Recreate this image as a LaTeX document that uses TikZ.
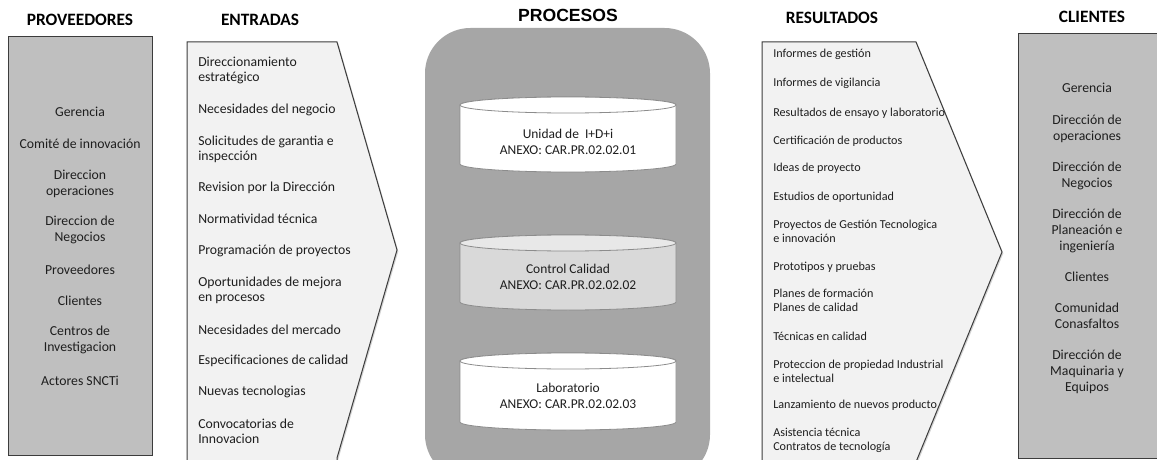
\documentclass[tikz,border=0pt]{standalone}
\usepackage{fontspec}
\setmainfont{Carlito}
\newfontfamily\headfont{Liberation Sans}
\usepackage{xcolor}
\definecolor{boxgray}{RGB}{191,191,191}
\definecolor{arrowgray}{RGB}{242,242,242}
\definecolor{procgray}{RGB}{166,166,166}
\definecolor{calgray}{RGB}{217,217,217}
\definecolor{caltop}{RGB}{232,232,232}
\definecolor{edgegray}{RGB}{60,60,60}
\definecolor{cylgray}{RGB}{140,140,140}
\definecolor{txtdark}{RGB}{30,30,30}
\usepackage{tikz}
\usetikzlibrary{shadows}
\tikzset{
  headtxt/.style={font=\fontsize{13}{15}\selectfont\bfseries, text=black, inner sep=0pt},
  initem/.style={font=\fontsize{10.3}{11.25}\selectfont, text=txtdark, anchor=west, align=left, inner sep=0pt},
  outitem/.style={initem, font=\fontsize{9.1}{10.5}\selectfont},
  partytxt/.style={font=\fontsize{10.3}{12}\selectfont, text=txtdark, align=center, inner sep=0pt},
  cyltxt/.style={partytxt, font=\fontsize{10.1}{12}\selectfont},
  shadowed/.style={drop shadow={shadow xshift=1pt, shadow yshift=-1pt, opacity=0.35}},
}

\begin{document}
\begin{tikzpicture}[x=0.75pt, y=-0.75pt]
  \useasboundingbox (0,0) rectangle (1157,460);

  % column titles
  \node[headtxt] (tprov) at (80,20)  {PROVEEDORES};
  \node[headtxt] (tent)  at (260,20) {ENTRADAS};
  \node[headtxt, font=\headfont\fontsize{13.2}{15}\selectfont\bfseries] (tproc) at (568,15) {PROCESOS};
  \node[headtxt] (tres)  at (832,18) {RESULTADOS};
  \node[headtxt] (tcli)  at (1092,17) {CLIENTES};

  % proveedores
  \draw[shadowed, fill=boxgray, draw=edgegray, line width=0.75pt] (8,37) rectangle (152,455);
  \node[partytxt] (p1) at (80,112) {Gerencia};
  \node[partytxt] (p2) at (80,144) {Comité de innovación};
  \node[partytxt] (p3) at (80,184) {Direccion\\operaciones};
  \node[partytxt] (p4) at (80,230) {Direccion de\\Negocios};
  \node[partytxt] (p5) at (80,270) {Proveedores};
  \node[partytxt] (p6) at (80,301) {Clientes};
  \node[partytxt] (p7) at (80,340) {Centros de\\Investigacion};
  \node[partytxt] (p8) at (80,381) {Actores SNCTi};

  % entradas
  \draw[shadowed, fill=arrowgray, draw=edgegray, line width=0.75pt]
    (187,42) -- (337,42) -- (397,250) -- (337,458) -- (337,470) -- (187,470) -- cycle;
  \node[initem] (e1)  at (198,70.5)  {Direccionamiento\\estratégico};
  \node[initem] (e2)  at (198,110)   {Necesidades del negocio};
  \node[initem] (e3)  at (198,149.5) {Solicitudes de garantia e\\inspección};
  \node[initem] (e4)  at (198,188)   {Revision por la Dirección};
  \node[initem] (e5)  at (198,219)   {Normatividad técnica};
  \node[initem] (e6)  at (198,251)   {Programación de proyectos};
  \node[initem] (e7)  at (198,290.5) {Oportunidades de mejora\\en procesos};
  \node[initem] (e8)  at (198,330)   {Necesidades del mercado};
  \node[initem] (e9)  at (198,361)   {Especificaciones de calidad};
  \node[initem] (e10) at (198,392)   {Nuevas tecnologias};
  \node[initem] (e11) at (198,431.5) {Convocatorias de\\Innovacion};

  % procesos
  \fill[procgray, rounded corners=34pt] (425,28) rectangle (710,480);

  \draw[cylgray, fill=white, line width=0.6pt] (460,105) -- (460,164)
    arc[start angle=180, end angle=0, x radius=108, y radius=8] -- (676,105)
    arc[start angle=0, end angle=-180, x radius=108, y radius=8] -- cycle;
  \draw[cylgray, fill=white, line width=0.6pt] (568,105) ellipse[x radius=108, y radius=8];
  \node[cyltxt] (c1) at (568,141.5) {Unidad de~~I+D+i\\ANEXO: CAR.PR.02.02.01};

  \draw[cylgray, fill=calgray, line width=0.6pt] (460,243) -- (460,302)
    arc[start angle=180, end angle=0, x radius=108, y radius=8] -- (676,243)
    arc[start angle=0, end angle=-180, x radius=108, y radius=8] -- cycle;
  \draw[cylgray, fill=caltop, line width=0.6pt] (568,243) ellipse[x radius=108, y radius=8];
  \node[cyltxt] (c2) at (568,277) {Control Calidad\\ANEXO: CAR.PR.02.02.02};

  \draw[cylgray, fill=white, line width=0.6pt] (460,361) -- (460,422)
    arc[start angle=180, end angle=0, x radius=108, y radius=8] -- (676,361)
    arc[start angle=0, end angle=-180, x radius=108, y radius=8] -- cycle;
  \draw[cylgray, fill=white, line width=0.6pt] (568,361) ellipse[x radius=108, y radius=8];
  \node[cyltxt] (c3) at (568,396) {Laboratorio\\ANEXO: CAR.PR.02.02.03};

  % resultados
  \draw[shadowed, fill=arrowgray, draw=edgegray, line width=0.75pt]
    (762,42) -- (916,42) -- (1002,252) -- (916,462) -- (916,470) -- (762,470) -- cycle;
  \node[outitem] (r1)  at (773,54)    {Informes de gestión};
  \node[outitem] (r2)  at (773,83)    {Informes de vigilancia};
  \node[outitem] (r3)  at (773,113)   {Resultados de ensayo y laboratorio};
  \node[outitem] (r4)  at (773,141)   {Certificación de productos};
  \node[outitem] (r5)  at (773,168)   {Ideas de proyecto};
  \node[outitem] (r6)  at (773,197)   {Estudios de oportunidad};
  \node[outitem] (r7)  at (773,231)   {Proyectos de Gestión Tecnologica\\e innovación};
  \node[outitem] (r8)  at (773,267)   {Prototipos y pruebas};
  \node[outitem] (r9)  at (773,300.5) {Planes de formación\\Planes de calidad};
  \node[outitem] (r10) at (773,336)   {Técnicas en calidad};
  \node[outitem] (r11) at (773,371)   {Proteccion de propiedad Industrial\\e intelectual};
  \node[outitem] (r12) at (773,405)   {Lanzamiento de nuevos producto};
  \node[outitem] (r13) at (773,440)   {Asistencia técnica\\Contratos de tecnología};

  % clientes
  \draw[shadowed, fill=boxgray, draw=edgegray, line width=0.75pt] (1018,34) rectangle (1165,458);
  \node[partytxt] (k1) at (1087,88)    {Gerencia};
  \node[partytxt] (k2) at (1087,129)   {Dirección de\\operaciones};
  \node[partytxt] (k3) at (1087,175.5) {Dirección de\\Negocios};
  \node[partytxt] (k4) at (1087,230.5) {Dirección de\\Planeación e\\ingeniería};
  \node[partytxt] (k5) at (1087,277)   {Clientes};
  \node[partytxt] (k6) at (1087,316)   {Comunidad\\Conasfaltos};
  \node[partytxt] (k7) at (1087,372)   {Dirección de\\Maquinaria y\\Equipos};
\end{tikzpicture}
\end{document}
